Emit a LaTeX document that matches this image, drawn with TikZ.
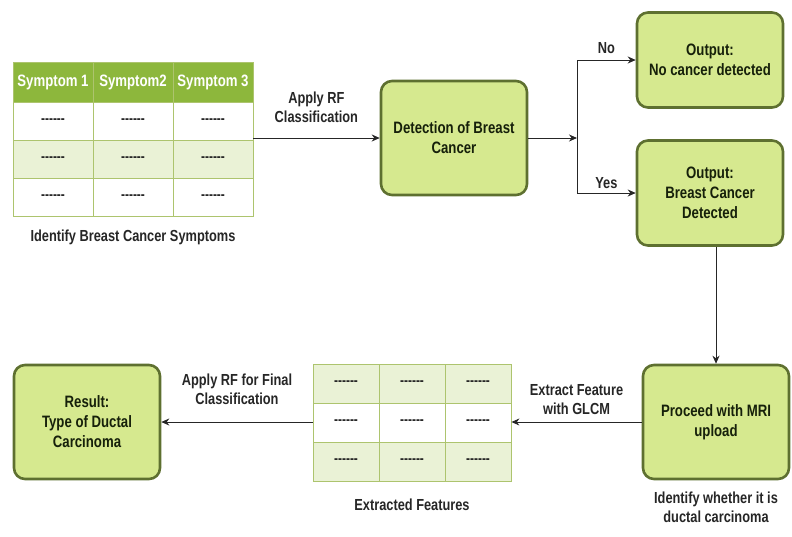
\documentclass[tikz,border=0pt]{standalone}
\usepackage{fontspec}
\setmainfont{Liberation Sans}[FakeStretch=0.8]
\usepackage{tikz}
\usetikzlibrary{arrows.meta, positioning, calc}
\definecolor{boxfill}{HTML}{D6E98F}
\definecolor{boxline}{HTML}{5E7030}
\definecolor{headfill}{HTML}{8DB73C}
\definecolor{rowfill}{HTML}{EAF2D6}
\definecolor{gridline}{HTML}{ADC46E}
\definecolor{inktext}{HTML}{16200A}
\newcommand{\celldash}{{-}{-}{-}{-}{-}{-}}

\begin{document}
\begin{tikzpicture}[x=1pt, y=-1pt, font=\bfseries,
    stagebox/.style={draw=boxline, line width=2.6pt, fill=boxfill, rounded corners=11pt,
        minimum width=146pt, minimum height=114pt, align=center, text=inktext,
        font=\bfseries\fontsize{16.5}{20}\selectfont},
    cellbox/.style={draw=gridline, line width=0.8pt, inner sep=0pt, text=black!85,
        font=\bfseries\fontsize{15}{16}\selectfont},
    headbox/.style={cellbox, fill=headfill, text=white, font=\bfseries\fontsize{16.5}{18}\selectfont},
    flow/.style={-{Stealth[length=8pt, width=7pt]}, line width=0.9pt, black!85},
    note/.style={align=center, text=black!85, font=\bfseries\fontsize{16}{19}\selectfont}
]
    \useasboundingbox (0,0) rectangle (792,536);

    % 1. Symptom table (top left)
    \foreach \c/\txt in {1/Symptom 1, 2/Symptom2, 3/Symptom 3}{
        \node[headbox, minimum width=80pt, minimum height=40pt, inner sep=0pt] (h\c) at ({13+80*(\c-1)+40}, 82) {\txt};
    }
    \foreach \r/\shade in {1/white, 2/rowfill, 3/white}{
        \foreach \c in {1,2,3}{
            \node[cellbox, fill=\shade, minimum width=80pt, minimum height=38pt] (s\r\c)
                at ({13+80*(\c-1)+40}, {102+38*(\r-1)+19}) {\celldash};
        }
    }
    \node[note, below=10pt of s32] (symlabel) {Identify Breast Cancer Symptoms};

    % 2. Decision stage and outputs
    \node[stagebox] (detect) at (454,138) {Detection of Breast\\Cancer};
    \node[stagebox, minimum height=95pt] (nobox) at (710,60) {Output:\\No cancer detected};
    \node[stagebox, minimum height=105pt] (yesbox) at (710,193) {Output:\\Breast Cancer\\Detected};
    \coordinate (split) at (577,138);
    \coordinate (tableout) at (253,138);

    \draw[flow] (tableout) -- node[note, above=12pt] {Apply RF\\Classification} (detect.west);
    \draw[flow] (detect.east) -- (split);
    \draw[flow] (split) |- node[note, pos=0.75, above=3pt] {No} (nobox.west);
    \draw[flow] (split) |- node[note, pos=0.75, above=1pt] {Yes} (yesbox.west);

    % 3. MRI stage
    \node[stagebox] (mri) at (716,422) {Proceed with MRI\\upload};
    \node[note, below=8pt of mri] (mrilabel) {Identify whether it is\\ductal carcinoma};
    \draw[flow] (yesbox.south -| mri.north) -- (mri.north);

    % 4. Feature table (bottom middle)
    \foreach \r/\shade in {1/rowfill, 2/white, 3/rowfill}{
        \foreach \c in {1,2,3}{
            \node[cellbox, fill=\shade, minimum width=66pt, minimum height=39pt] (f\r\c)
                at ({313+66*(\c-1)+33}, {364+39*(\r-1)+19.5}) {\celldash};
        }
    }
    \node[note, below=14pt of f32] (featlabel) {Extracted Features};

    % 5. Result stage
    \node[stagebox] (result) at (87,422) {Result:\\Type of Ductal\\Carcinoma};

    \draw[flow] (mri.west) -- node[note, above=4pt] {Extract Feature\\with GLCM} (f23.east |- mri.west);
    \draw[flow] (result.east -| f21.west) -- node[note, above=14pt] {Apply RF for Final\\Classification} (result.east);

\end{tikzpicture}
\end{document}
